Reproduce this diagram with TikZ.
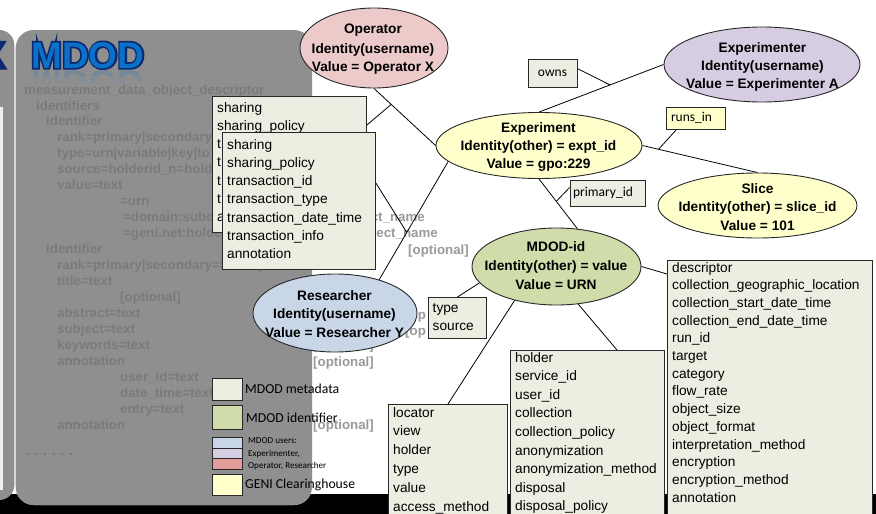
\documentclass[tikz,border=0pt]{standalone}
\usepackage{fontspec}
\usepackage{graphicx}
\setmainfont{Liberation Sans}
\newfontfamily\carlito{Carlito}
\newfontfamily\titleoutline[FakeBold=9]{Liberation Sans Bold}
\usetikzlibrary{shapes.geometric,calc}

\definecolor{metabox}{RGB}{235,238,224}
\definecolor{idgreen}{RGB}{208,221,170}
\definecolor{chyellow}{RGB}{255,255,204}
\definecolor{userblue}{RGB}{200,214,232}
\definecolor{userpurple}{RGB}{214,205,226}
\definecolor{userpink}{RGB}{236,202,202}
\definecolor{legendred}{RGB}{226,157,154}
\definecolor{ghost}{RGB}{154,154,154}
\definecolor{panelgray}{RGB}{115,115,115}
\definecolor{stripgray}{RGB}{143,143,143}
\definecolor{titleblue}{RGB}{10,112,200}
\definecolor{titlenavy}{RGB}{12,40,110}
\definecolor{edge}{RGB}{40,40,40}

\pgfdeclarelayer{base}
\pgfdeclarelayer{wires}
\pgfsetlayers{base,wires,main}

\tikzset{
  ent/.style={ellipse, draw=edge, line width=0.9pt, inner sep=0pt},
  enttext/.style={anchor=base, inner sep=0pt, font=\bfseries\fontsize{13.7}{16}\selectfont},
  listbox/.style={draw=edge, line width=0.9pt, fill=metabox, anchor=north west, inner sep=0pt},
  item/.style={anchor=base west, inner sep=0pt, font=\fontsize{13.7}{16}\selectfont},
  ghosttext/.style={anchor=base west, inner sep=0pt, text=ghost, font=\bfseries\fontsize{13.3}{16}\selectfont},
  tag/.style={draw=edge, line width=0.9pt, fill=metabox, font=\carlito\fontsize{13.5}{16}\selectfont, inner ysep=0pt},
  link/.style={draw=black, line width=0.8pt},
  legendsq/.style={draw=edge, line width=0.9pt, anchor=north west, inner sep=0pt},
  legendlbl/.style={anchor=base west, inner sep=0pt, font=\carlito\fontsize{13.7}{16}\selectfont},
  legendsmall/.style={anchor=base west, inner sep=0pt, font=\carlito\fontsize{9.1}{11}\selectfont},
  titlefont/.style={anchor=base west, inner sep=0pt, font=\bfseries\fontsize{37}{40}\selectfont},
  titleedge/.style={anchor=base west, inner sep=0pt, font=\titleoutline\fontsize{37}{40}\selectfont},
}

\begin{document}
\begin{tikzpicture}[x=1pt,y=-1pt]
\useasboundingbox (0,0) rectangle (876,514);

\begin{pgfonlayer}{base}
  % page and bottom bar
  \fill[white] (0,0) rectangle (876,514);
  \fill[black] (0,494) rectangle (876,514);
  % narrow slide strip on the left
  \fill[stripgray, rounded corners=15pt] (-30,30) rectangle (14.3,500);
  \fill[white!85!stripgray] (0,107) rectangle (2.5,490);
  \begin{scope}
    \clip (0,30) rectangle (14.3,100);
    \node[titleedge, anchor=base east, text=titlenavy] (kfrag) at (5,68) {X};
  \end{scope}
  % main panel (opaque base)
  \fill[white, rounded corners=18pt] (15.7,30) rectangle (312,505);
  % descriptor outline text
  \foreach \gx/\gy/\gt [count=\i] in {
      24/94.5/measurement\_data\_object\_descriptor,
      36/110.5/identifiers,
      46/125.5/identifier,
      57/141.5/rank=primary|secondary|to,
      57/157.5/type=urn|variable|key|to,
      57/173.5/source=holderid\_n=hold,
      57/189.5/value=text,
      120/205.5/=urn,
      123/221.5/=domain:subd,
      123/237.5/=geni.net:holde,
      46/253.5/identifier,
      408/254.5/{[optional]},
      57/269.5/rank=primary|secondary=tertiary,
      57/285.5/title=text,
      120/301.5/{[optional]},
      57/317.5/abstract=text,
      405/319/{[op},
      57/333.5/subject=text,
      405/335/{[op},
      57/349.5/keywords=text,
      313/349.5/{[optional]},
      57/365.5/annotation,
      313/366/{[optional]},
      120/381.5/user\_id=text,
      120/397.5/date\_time=text,
      120/413.5/entry=text,
      57/429.5/annotation,
      313/429.5/{[optional]},
      26/455/{. . . . . .}}
    \node[ghosttext] (g\i) at (\gx,\gy) {\gt};
  \node[ghosttext, anchor=base east] (gtail1) at (425,221.5) {ct\_name};
  \node[ghosttext, anchor=base east] (gtail2) at (438,237.5) {ject\_name};
  % translucent panel tint over the text
  \fill[panelgray, fill opacity=0.8, rounded corners=18pt] (15.7,30) rectangle (312,505);
\end{pgfonlayer}

% title: navy stroked outline, blue face, faint reflection
\begin{scope}
  \clip (28,69) rectangle (150,75);
  \node[titlefont, text=titleblue, opacity=0.18] (trefl) at (31,70) {\scalebox{1}[-1]{MDOD}};
\end{scope}
\begin{scope}
  \clip (28,75) rectangle (150,82);
  \node[titlefont, text=titleblue, opacity=0.07] (trefl2) at (31,70) {\scalebox{1}[-1]{MDOD}};
\end{scope}
\node[titleedge, text=titlenavy] (tedge) at (31,68) {MDOD};
\node[titlefont, text=titleblue] (title) at (31,68) {MDOD};

% sharing metadata boxes (the back one mostly hidden)
\node[listbox, minimum width=154pt, minimum height=136pt] (sh1) at (212,96) {};
\foreach \t [count=\i] in {sharing, sharing\_policy, t, t, t, t, a}
  \node[item] (sa\i) at (217,{112+18.3*(\i-1)}) {\t};
\node[listbox, minimum width=153pt, minimum height=137pt] (sh2) at (222,132) {};
\foreach \t [count=\i] in {sharing, sharing\_policy, transaction\_id, transaction\_type,
    transaction\_date\_time, transaction\_info, annotation}
  \node[item] (sb\i) at (227,{149+18.3*(\i-1)}) {\t};

% entities
\node[ent, fill=userpink, minimum width=148pt, minimum height=80pt] (op) at (374,48) {};
\node[enttext] (op1) at (373,34) {Operator};
\node[enttext] (op2) at (373,53) {Identity(username)};
\node[enttext] (op3) at (373,71) {Value = Operator X};

\node[ent, fill=userpurple, minimum width=196pt, minimum height=75pt] (xp) at (762,64.5) {};
\node[enttext] (xp1) at (762.5,52) {Experimenter};
\node[enttext] (xp2) at (762.5,70) {Identity(username)};
\node[enttext] (xp3) at (762.5,88) {Value = Experimenter A};

\node[ent, fill=chyellow, minimum width=206pt, minimum height=66pt] (exp) at (539,145.5) {};
\node[enttext] (ex1) at (538.5,132) {Experiment};
\node[enttext] (ex2) at (538.5,150.5) {Identity(other) = expt\_id};
\node[enttext] (ex3) at (538.5,168.5) {Value = gpo:229};

\node[ent, fill=chyellow, minimum width=199pt, minimum height=65pt] (sl) at (757.5,205.5) {};
\node[enttext] (sl1) at (757.5,193) {Slice};
\node[enttext] (sl2) at (757.5,211.5) {Identity(other) = slice\_id};
\node[enttext] (sl3) at (757.5,230) {Value = 101};

\node[ent, fill=idgreen, minimum width=169pt, minimum height=77pt] (md) at (556.5,266.5) {};
\node[enttext] (md1) at (556,251.5) {MDOD-id};
\node[enttext] (md2) at (556,270.5) {Identity(other) = value};
\node[enttext] (md3) at (556,289) {Value = URN};

\node[ent, fill=userblue, minimum width=164pt, minimum height=78pt] (res) at (335,313) {};
\node[enttext] (rs1) at (334.5,300) {Researcher};
\node[enttext] (rs2) at (334.5,318) {Identity(username)};
\node[enttext] (rs3) at (334.5,337) {Value = Researcher Y};

% relation tags
\node[tag, minimum width=49pt, minimum height=28pt] (ow) at (552.5,73) {owns};
\node[tag, fill=chyellow, text width=49pt, inner xsep=5pt, minimum height=22pt, align=left] (ri) at (695.5,118) {runs\_in};
\node[tag, text width=69pt, inner xsep=3pt, minimum height=26pt, align=left] (pid) at (607.5,193) {primary\_id};

% identifier attribute boxes
\node[listbox, minimum width=58pt, minimum height=41pt] (ts) at (428,297) {};
\node[item] (ts1) at (432.5,312) {type};
\node[item] (ts2) at (432.5,330) {source};

\node[listbox, minimum width=119pt, minimum height=130pt] (loc) at (388,404) {};
\foreach \t [count=\i] in {locator, view, holder, type, value, access\_method}
  \node[item] (lc\i) at (393,{417+18.8*(\i-1)}) {\t};

\node[listbox, minimum width=154pt, minimum height=180pt] (hol) at (510,350) {};
\foreach \t [count=\i] in {holder, service\_id, user\_id, collection, collection\_policy,
    anonymization, anonymization\_method, disposal, disposal\_policy}
  \node[item] (hd\i) at (515,{362+18.6*(\i-1)}) {\t};

\node[listbox, minimum width=205pt, minimum height=270pt] (dsc) at (667,260) {};
\foreach \t [count=\i] in {descriptor, collection\_geographic\_location,
    collection\_start\_date\_time, collection\_end\_date\_time, run\_id, target, category,
    flow\_rate, object\_size, object\_format, interpretation\_method, encryption,
    encryption\_method, annotation}
  \node[item] (ds\i) at (672,{272+17.7*(\i-1)}) {\t};

% legend
\node[legendsq, fill=metabox, minimum width=30pt, minimum height=22pt] (lg1) at (212,378) {};
\node[legendsq, fill=idgreen, minimum width=30pt, minimum height=24pt] (lg2) at (212,405) {};
\node[legendsq, fill=userblue, minimum width=30pt, minimum height=10.5pt] (lg3) at (212,437) {};
\node[legendsq, fill=userpurple, minimum width=30pt, minimum height=10.5pt] (lg4) at (212,447.5) {};
\node[legendsq, fill=legendred, minimum width=30pt, minimum height=10.5pt] (lg5) at (212,458) {};
\node[legendsq, fill=chyellow, minimum width=30pt, minimum height=21pt] (lg6) at (212,473.5) {};
\node[legendlbl] (ll1) at (245,393.5) {MDOD metadata};
\node[legendlbl] (ll2) at (246,422.5) {MDOD identifier};
\node[legendsmall] (ll3) at (248,443) {MDOD users:};
\node[legendsmall] (ll4) at (248,456) {Experimenter,};
\node[legendsmall] (ll5) at (248,468) {Operator, Researcher};
\node[legendlbl] (ll6) at (245,488.5) {GENI Clearinghouse};

% connectors
\begin{pgfonlayer}{wires}
  \draw[link] (op.south) -- (exp.west);
  \draw[link] (xp.west) -- (exp.north);
  \draw[link] (exp.east) -- (sl.north);
  \draw[link] (exp.south) -- (md.61);
  \draw[link] (exp.190) -- (res.37);
  \draw[link] (md.192) -- (ts.north);
  \draw[link] (md.219) -- ([xshift=60pt]loc.north west);
  \draw[link] (md.300) -- ([xshift=107pt]hol.north west);
  \draw[link] (md.east) -- ([yshift=-14pt]dsc.north west);
  \coordinate (j1) at ($(op.south)!0.28!(exp.west)$);
  \draw[link] ([yshift=-29pt]sh1.north east) -- (j1);
  \coordinate (j2) at ($(exp.190)!0.6!(res.37)$);
  \draw[link] ([yshift=-51pt]sh2.north east) -- (j2);
  \coordinate (j3) at ($(xp.west)!0.43!(exp.north)$);
  \draw[link] ([yshift=-10pt]ow.north east) -- (j3);
  \coordinate (j4) at ($(exp.east)!0.14!(sl.north)$);
  \draw[link] ([xshift=11pt]ri.south west) -- (j4);
  \coordinate (j5) at ($(exp.south)!0.45!(md.61)$);
  \draw[link] ([yshift=-8pt]pid.north west) -- (j5);
\end{pgfonlayer}
\end{tikzpicture}
\end{document}
